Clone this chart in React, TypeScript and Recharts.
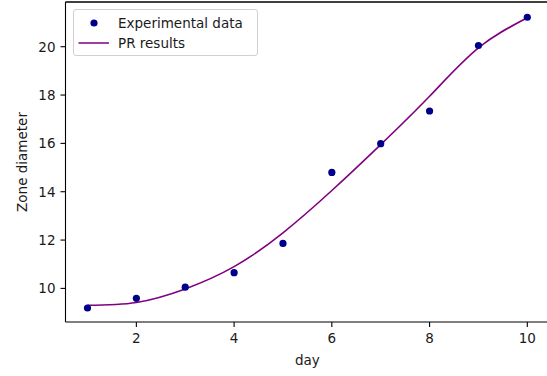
import React from 'react';
import { ComposedChart, Line, Scatter, XAxis, YAxis } from 'recharts';

// readings taken off the original figure
const DAYS = [1, 2, 3, 4, 5, 6, 7, 8, 9, 10];
const MEASURED = [9.19, 9.59, 10.05, 10.65, 11.86, 14.8, 15.99, 17.34, 20.05, 21.22];
const FITTED = [9.3, 9.42, 9.98, 10.9, 12.3, 14.05, 15.95, 17.95, 19.95, 21.2];
const X_TICKS = [2, 4, 6, 8, 10];
const Y_TICKS = [10, 12, 14, 16, 18, 20];
const X_DOMAIN = [0.55, 10.45];
const Y_DOMAIN = [8.61, 21.85];

const COLORS = {
  dots: '#00008b',
  fit: '#800080',
  text: '#1a1a1a',
};

const FONT = '"DejaVu Sans", sans-serif';

// layout: the original figure is cropped a few px before its right spine
const VIEW_W = 547;
const W = 550;
const H = 376;
const MARGIN = { top: 2, right: 0.7, bottom: 0, left: 0 };
const Y_AXIS_W = 65.5;
const X_AXIS_H = 54;

const data = DAYS.map((day, i) => ({ day, measured: MEASURED[i], fitted: FITTED[i] }));

const Dot = (props: any) => <circle cx={props.cx} cy={props.cy} r={3.6} fill={COLORS.dots} />;

const LegendBox: React.FC = () => (
  <div
    style={{
      position: 'absolute',
      left: 73,
      top: 9,
      width: 183,
      height: 45,
      border: '1px solid #d0d0d0',
      borderRadius: 3,
      background: 'rgba(255,255,255,0.8)',
      fontFamily: FONT,
      fontSize: 13.5,
      color: COLORS.text,
    }}
  >
    <svg width={40} height={45} style={{ position: 'absolute', left: 0, top: 0 }}>
      <circle cx={20} cy={13} r={3.6} fill={COLORS.dots} />
      <line x1={4.5} x2={35} y1={33} y2={33} stroke={COLORS.fit} strokeWidth={1.5} />
    </svg>
    <div style={{ position: 'absolute', left: 44, top: 4, lineHeight: '18px' }}>Experimental data</div>
    <div style={{ position: 'absolute', left: 44, top: 24, lineHeight: '18px' }}>PR results</div>
  </div>
);

export default function App() {
  const tickStyle = { fill: COLORS.text, fontSize: 13.5, fontFamily: FONT };
  return (
    <div style={{ position: 'relative', width: VIEW_W, height: H, overflow: 'hidden', background: '#fff' }}>
      <style>{'body { margin: 0; }'}</style>
      <ComposedChart width={W} height={H} data={data} margin={MARGIN}>
        <XAxis
          dataKey="day"
          type="number"
          domain={X_DOMAIN}
          ticks={X_TICKS}
          allowDataOverflow
          height={X_AXIS_H}
          tickSize={5}
          tickMargin={6}
          tick={tickStyle}
          stroke="#000"
          strokeWidth={1.1}
          label={{ value: 'day', position: 'insideBottom', offset: 11, fill: COLORS.text, fontSize: 13.5, fontFamily: FONT }}
        />
        <YAxis
          type="number"
          domain={Y_DOMAIN}
          ticks={Y_TICKS}
          allowDataOverflow
          width={Y_AXIS_W}
          tickSize={5}
          tickMargin={5}
          tick={tickStyle}
          stroke="#000"
          strokeWidth={1.1}
          label={{
            value: 'Zone diameter',
            angle: -90,
            position: 'insideLeft',
            offset: 22,
            fill: COLORS.text,
            fontSize: 13.5,
            fontFamily: FONT,
            style: { textAnchor: 'middle' },
          }}
        />
        <Line
          dataKey="fitted"
          type="natural"
          stroke={COLORS.fit}
          strokeWidth={1.6}
          dot={false}
          activeDot={false}
          isAnimationActive={false}
        />
        <Scatter dataKey="measured" fill={COLORS.dots} shape={Dot} isAnimationActive={false} />
      </ComposedChart>
      {/* top spine (the right one falls outside the crop) */}
      <svg
        width={VIEW_W}
        height={6}
        style={{ position: 'absolute', left: 0, top: 0, pointerEvents: 'none' }}
      >
        <line
          x1={MARGIN.left + Y_AXIS_W}
          x2={W - MARGIN.right}
          y1={MARGIN.top}
          y2={MARGIN.top}
          stroke="#000"
          strokeWidth={1.3}
        />
      </svg>
      <LegendBox />
    </div>
  );
}
